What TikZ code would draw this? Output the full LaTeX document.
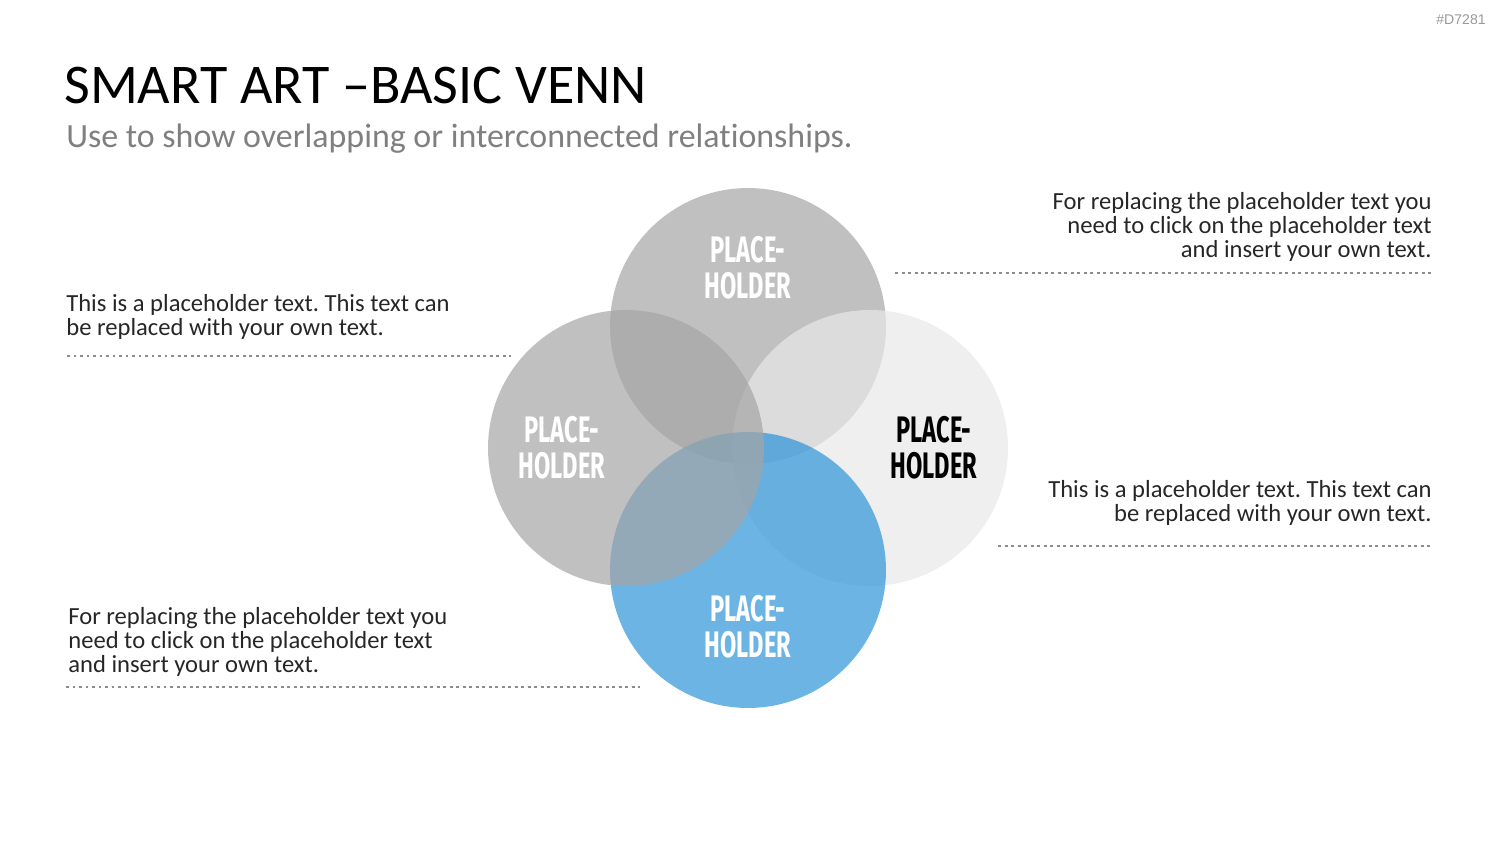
\documentclass[tikz,border=0pt]{standalone}
\usepackage{fontspec}
\setmainfont[Ligatures=NoCommon]{Carlito}
\newfontfamily\tagfont{Liberation Sans}
\newfontfamily\condfont[FakeStretch=0.64]{Fira Sans}
\usetikzlibrary{positioning}

\definecolor{vgray}{HTML}{A5A5A5}
\definecolor{vlight}{HTML}{E8E8E8}
\definecolor{vblue}{HTML}{2D94D8}
\definecolor{bodytext}{HTML}{262626}
\definecolor{subgray}{HTML}{7F7F7F}
\definecolor{dotgray}{HTML}{8C8C8C}

\frenchspacing
\begin{document}
\begin{tikzpicture}[x=0.02cm, y=-0.02cm]
\tikzstyle{venn}=[circle, minimum size=5.52cm, inner sep=0pt, fill opacity=0.7]
\tikzstyle{lbl}=[font=\condfont\bfseries\fontsize{21}{20.5}\selectfont, align=center, inner sep=0pt]
\tikzstyle{body}=[font=\fontsize{14}{13.6}\selectfont, text=bodytext, inner sep=0pt]
\tikzstyle{dotrule}=[dotgray, line width=1.7pt, dash pattern=on 1.7pt off 2pt]
\useasboundingbox (0,0) rectangle (1500,844);

% heading
\node[anchor=base east, inner sep=0pt, font=\tagfont\fontsize{8}{8}\selectfont, text=black!40] (tag) at (1486,25) {\#D7281};
\node[anchor=base west, inner sep=0pt, font=\fontsize{31.9}{32}\selectfont] (title) at (64,104) {SMART ART \textendash BASIC VENN};
\node[anchor=base west, inner sep=0pt, font=\fontsize{19.3}{20}\selectfont, text=subgray] (sub) at (66,148) {Use to show overlapping or interconnected relationships.};

% circles
\node[venn, fill=vgray] (ctop) at (748,326) {};
\node[venn, fill=vlight] (cright) at (870,448) {};
\node[venn, fill=vblue] (cbottom) at (748,570) {};
\node[venn, fill=vgray] (cleft) at (626,448) {};

\node[lbl, text=white] (ltop) at ([yshift=1.16cm]ctop.center) {PLACE-\\HOLDER};
\node[lbl, text=white] (lleft) at ([xshift=-1.28cm]cleft.center) {PLACE-\\HOLDER};
\node[lbl, text=black] (lright) at ([xshift=1.28cm]cright.center) {PLACE-\\HOLDER};
\node[lbl, text=white] (lbottom) at ([yshift=-1.14cm]cbottom.center) {PLACE-\\HOLDER};

% side texts
\node[body, anchor=north east, align=right] (tr) at (1432,192) {For replacing the placeholder text you\\need to click on the placeholder text\\and insert your own text.};
\node[body, anchor=north west, align=left] (tl) at (66,294) {This is a placeholder text. This text can\\be replaced with your own text.};
\node[body, anchor=north east, align=right] (tr2) at (1432,480) {This is a placeholder text. This text can\\be replaced with your own text.};
\node[body, anchor=north west, align=left] (tl2) at (68,607) {For replacing the placeholder text you\\need to click on the placeholder text\\and insert your own text.};

\coordinate (d1a) at (895,273); \coordinate (d1b) at (1432,273);
\coordinate (d2a) at (67,356);  \coordinate (d2b) at (511,356);
\coordinate (d3a) at (998,546); \coordinate (d3b) at (1432,546);
\coordinate (d4a) at (66,687);  \coordinate (d4b) at (640,687);
\draw[dotrule] (d1a) -- (d1b);
\draw[dotrule] (d2a) -- (d2b);
\draw[dotrule] (d3a) -- (d3b);
\draw[dotrule] (d4a) -- (d4b);
\end{tikzpicture}
\end{document}
